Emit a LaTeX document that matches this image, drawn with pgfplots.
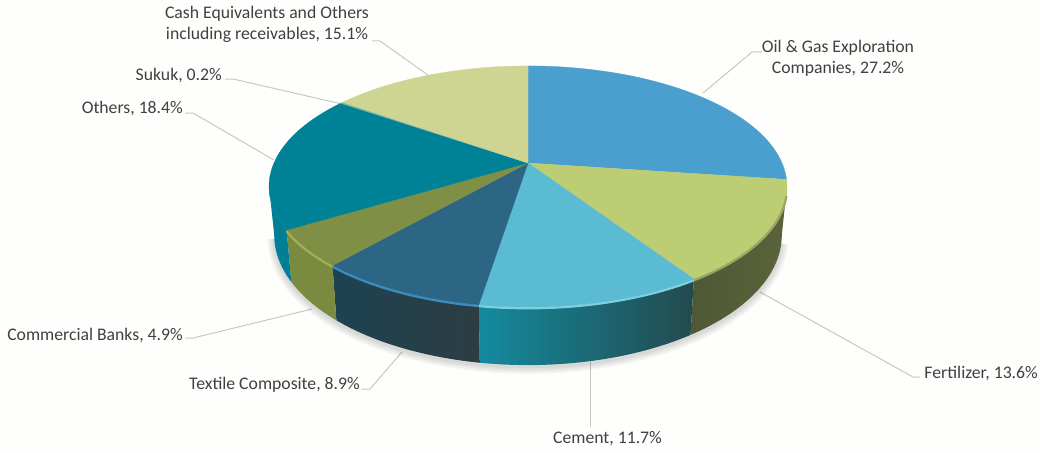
\documentclass[border=0pt]{standalone}
\usepackage{pgfplots}
\pgfplotsset{compat=1.18}
\usepackage{fontspec}
\setmainfont{Carlito}
\definecolor{paper}{HTML}{FEFEFC}
\definecolor{leader}{HTML}{C8C8C2}
\definecolor{ink}{HTML}{404040}
% slice colours, top faces
\definecolor{oilT}{HTML}{4B9FCE}
\definecolor{ferT}{HTML}{BCCD74}
\definecolor{cemT}{HTML}{5BBBD3}
\definecolor{texT}{HTML}{2C6684}
\definecolor{comT}{HTML}{7F8F45}
\definecolor{othT}{HTML}{008296}
\definecolor{sukT}{HTML}{7FAFA8}
\definecolor{casT}{HTML}{CED593}
% slice colours, outer walls
\definecolor{ferWl}{HTML}{4E5836}
\definecolor{ferWr}{HTML}{5A6338}
\definecolor{cemWl}{HTML}{148A9E}
\definecolor{cemWm}{HTML}{1F6C78}
\definecolor{cemWr}{HTML}{234A4E}
\definecolor{texWl}{HTML}{1D4252}
\definecolor{texWr}{HTML}{2D3E42}
\definecolor{comW}{HTML}{7A8A3E}
\definecolor{othW}{HTML}{007F96}
% bevel highlights
\definecolor{ferB}{HTML}{9AA662}
\definecolor{cemB}{HTML}{7CD0E0}
\definecolor{texB}{HTML}{3A8DBE}
\definecolor{comB}{HTML}{A3AE58}
% portfolio shares in percent, clockwise from twelve o'clock
\def\vOil{27.2}
\def\vFer{13.6}
\def\vCem{11.7}
\def\vTex{8.9}
\def\vCom{4.9}
\def\vOth{18.4}
\def\vSuk{0.2}
\def\vCas{15.1}
\pgfmathsetmacro\aA{3.6*\vOil}
\pgfmathsetmacro\aB{\aA+3.6*\vFer}
\pgfmathsetmacro\aC{\aB+3.6*\vCem}
\pgfmathsetmacro\aD{\aC+3.6*\vTex}
\pgfmathsetmacro\aE{\aD+3.6*\vCom}
\pgfmathsetmacro\aF{\aE+3.6*\vOth}
\pgfmathsetmacro\aG{\aF+3.6*\vSuk}
\pgfmathsetmacro\aH{\aG+3.6*\vCas}
% top face of one slice
\newcommand{\slice}[3]{\addplot[fill=#3,draw=#3,line width=0.3pt,domain=#1:#2,samples=60]
  ({px(x)},{py(x)}) -- (axis cs:528,163) -- cycle;}
% outer wall of one slice: upper rim forward, lower rim back
\newcommand{\wall}[3]{\addplot[draw=none,#3,domain=0:2,samples=81]
  ({wx(#1,#2,x)},{wy(#1,#2,x)}) -- cycle;}
% bevel along the upper rim
\newcommand{\bevel}[3]{\addplot[draw=#3,line width=2.2pt,line cap=butt,domain=#1:#2,samples=40]
  ({px(x)},{py(x)+1.2});}
\begin{document}
\begin{tikzpicture}
\begin{axis}[
  scale only axis, width=1040pt, height=452pt,
  xmin=0, xmax=1040, ymin=0, ymax=452, y dir=reverse,
  hide axis, clip=false, no markers,
  declare function={
    px(\t)=528+254*sin(\t)/(1+0.195*cos(\t));
    py(\t)=163-116*cos(\t)/(1+0.195*cos(\t));
    tt(\a,\b,\s)=ifthenelse(\s>1.01,\b-(\b-\a)*(\s-1.025)/0.975,\a+(\b-\a)*\s);
    lx(\t)=528+0.98*(px(\t)-528);
    ly(\t)=py(\t)+46.7/(1+0.195*cos(\t));
    wx(\a,\b,\s)=ifthenelse(\s>1.01,lx(tt(\a,\b,\s)),px(tt(\a,\b,\s)));
    wy(\a,\b,\s)=ifthenelse(\s>1.01,ly(tt(\a,\b,\s)),py(tt(\a,\b,\s)));
  },
]
\fill[paper] (axis cs:0,0) rectangle (axis cs:1040,452);

% leader lines
\addplot[leader,line width=1pt] coordinates {(703,93) (752,52) (762,52)};
\addplot[leader,line width=1pt] coordinates {(760,292) (913,377) (920,377)};
\addplot[leader,line width=1pt] coordinates {(590.7,360) (590.7,427)};
\addplot[leader,line width=1pt] coordinates {(402,352) (370,389) (361,389)};
\addplot[leader,line width=1pt] coordinates {(312,309) (193,338) (185,338)};
\addplot[leader,line width=1pt] coordinates {(274,160) (193,113) (185,113)};
\addplot[leader,line width=1pt] coordinates {(342,104) (233,79) (225,79)};
\addplot[leader,line width=1pt] coordinates {(428,75) (380,41) (372,41)};

% soft shadow below the lower rim
\pgfplotsinvokeforeach{14,11,8,5,2}{
  \addplot[draw=black,opacity=0.03,line width=#1pt,domain=104:258,samples=70]
    ({lx(x)},{ly(x)+2});
}

% outer walls, each ending on the silhouette where the rim turns back
\wall{101.2}{\aB}{left color=ferWl,right color=ferWr}
\wall{\aB}{\aC}{left color=cemWl,middle color=cemWm,right color=cemWr}
\wall{\aC}{\aD}{left color=texWl,right color=texWr}
\wall{\aD}{\aE}{fill=comW}
\wall{\aE}{258.8}{fill=othW}

% top faces
\slice{0}{\aA}{oilT}
\slice{\aA}{\aB}{ferT}
\slice{\aB}{\aC}{cemT}
\slice{\aC}{\aD}{texT}
\slice{\aD}{\aE}{comT}
\slice{\aE}{\aF}{othT}
\slice{\aF}{\aG}{sukT}
\slice{\aG}{\aH}{casT}

% bevel highlights on the front rim
\bevel{105}{\aB}{ferB}
\bevel{\aB}{\aC}{cemB}
\bevel{\aC}{\aD}{texB}
\bevel{\aD}{\aE}{comB}

% data labels
\begin{scope}[every node/.style={text=ink,font=\fontsize{17.7}{21}\selectfont,inner sep=0pt}]
\node[align=center] at (axis cs:838,58) {Oil \& Gas Exploration\\Companies, 27.2\%};
\node[anchor=east] at (axis cs:1038,373) {Fertilizer, 13.6\%};
\node at (axis cs:607.5,439) {Cement, 11.7\%};
\node[anchor=east] at (axis cs:360,385) {Textile Composite, 8.9\%};
\node[anchor=east] at (axis cs:183,335) {Commercial Banks, 4.9\%};
\node[anchor=east] at (axis cs:183,108) {Others, 18.4\%};
\node[anchor=east] at (axis cs:222,75) {Sukuk, 0.2\%};
\node[align=center] at (axis cs:267,24) {Cash Equivalents and Others\\including receivables, 15.1\%};
\end{scope}
\end{axis}
\end{tikzpicture}
\end{document}
